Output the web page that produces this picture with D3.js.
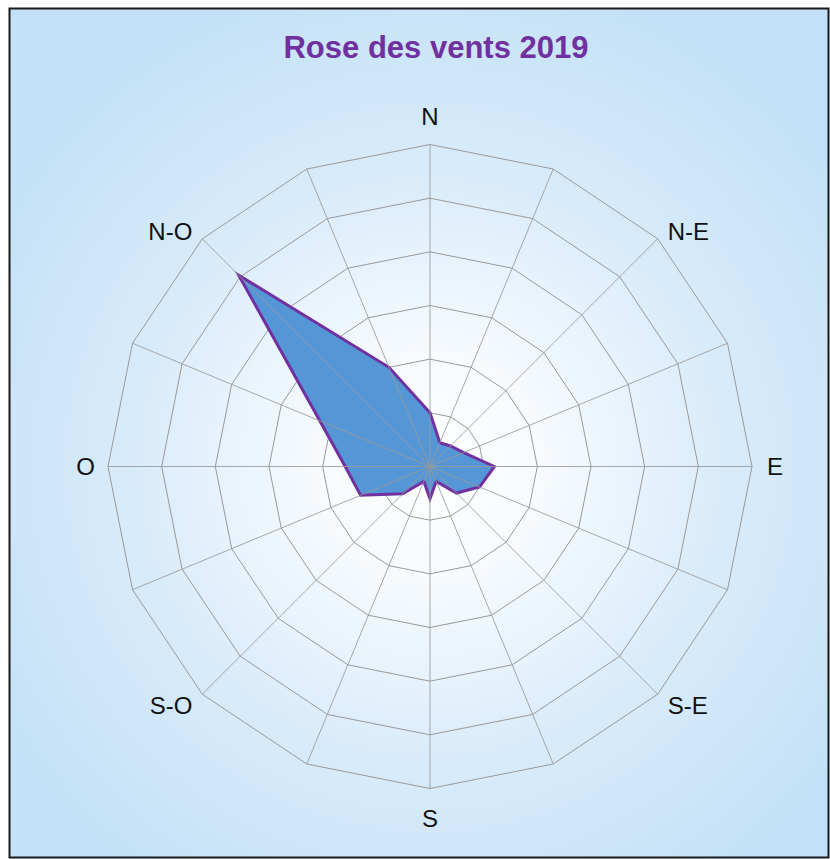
<!DOCTYPE html>
<html>
<head>
<meta charset="utf-8">
<script src="https://cdn.jsdelivr.net/npm/d3@7"></script>
<style>
  body { margin: 0; background: #fff; }
  svg { display: block; }
</style>
</head>
<body>
<script>
const width = 830;
const height = 859;
const cx = 430;
const cy = 466.5;
const radius = 322;

// 16 directions, clockwise from north
const directions = ["N", "NNE", "NE", "ENE", "E", "ESE", "SE", "SSE",
                    "S", "SSO", "SO", "OSO", "O", "ONO", "NO", "NNO"];
const dirLabels = ["N", "", "N-E", "", "E", "", "S-E", "",
                   "S", "", "S-O", "", "O", "", "N-O", ""];
// frequency in %
const values = [5.0, 2.4, 2.7, 3.4, 6.0, 5.0, 3.5, 1.5,
                3.0, 1.5, 3.6, 7.0, 7.9, 11.1, 25.2, 10.0];
const ticks = [5, 10, 15, 20, 25, 30];

const svg = d3.select("body").append("svg")
  .attr("width", width)
  .attr("height", height);

const defs = svg.append("defs");
const grad = defs.append("radialGradient")
  .attr("id", "bg")
  .attr("gradientUnits", "userSpaceOnUse")
  .attr("cx", cx).attr("cy", cy).attr("r", 500);
grad.append("stop").attr("offset", "0%").attr("stop-color", "#ffffff");
grad.append("stop").attr("offset", "25%").attr("stop-color", "#f5fafe");
grad.append("stop").attr("offset", "60%").attr("stop-color", "#d8ebfa");
grad.append("stop").attr("offset", "100%").attr("stop-color", "#c4e1f7");

svg.append("rect")
  .attr("x", 9.5).attr("y", 8.5)
  .attr("width", 819).attr("height", 849)
  .attr("fill", "url(#bg)")
  .attr("stroke", "#1a1a1a")
  .attr("stroke-width", 2);

svg.append("text")
  .attr("x", 436).attr("y", 58)
  .attr("text-anchor", "middle")
  .attr("font-family", "Liberation Sans, Arial, sans-serif")
  .attr("font-size", 31)
  .attr("font-weight", "bold")
  .attr("fill", "#7030a0")
  .text("Rose des vents 2019");

const r = d3.scaleLinear().domain([0, 30]).range([0, radius]);
const angle = d3.scaleLinear()
  .domain([0, directions.length])
  .range([0, 2 * Math.PI]);

const g = svg.append("g").attr("transform", `translate(${cx},${cy})`);

// rings
const ringLine = d3.lineRadial()
  .angle((d, i) => angle(i))
  .curve(d3.curveLinearClosed);

g.selectAll("path.ring")
  .data(ticks)
  .enter()
  .append("path")
    .attr("class", "ring")
    .attr("d", t => ringLine.radius(r(t))(directions))
    .attr("fill", "none")
    .attr("stroke", "#999")
    .attr("stroke-width", 1);

// series
const area = d3.lineRadial()
  .angle((d, i) => angle(i))
  .radius(d => r(d))
  .curve(d3.curveLinearClosed);

g.append("path")
  .attr("d", area(values))
  .attr("fill", "#5597d6")
  .attr("stroke", "#7030a0")
  .attr("stroke-width", 3)
  .attr("stroke-linejoin", "miter");

// spokes drawn over the fill, as in the picture
g.selectAll("line.spoke")
  .data(directions)
  .enter()
  .append("line")
    .attr("class", "spoke")
    .attr("x1", 0).attr("y1", 0)
    .attr("x2", (d, i) => r(30) * Math.sin(angle(i)))
    .attr("y2", (d, i) => -r(30) * Math.cos(angle(i)))
    .attr("stroke", "#999")
    .attr("stroke-opacity", 0.85)
    .attr("stroke-width", 1);

// direction labels just outside the outer ring
function labelX(i) {
  const s = Math.sin(angle(i));
  const vx = radius * s;
  if (s > 0.9) return vx + 15;
  if (s < -0.9) return vx - 13;
  if (s > 0.1) return vx + 10;
  if (s < -0.1) return vx - 10;
  return vx;
}
function labelY(i) {
  const c = Math.cos(angle(i));
  const vy = -radius * c;
  if (c > 0.9) return vy - 27.5;
  if (c < -0.9) return vy + 30;
  if (c > 0.1) return vy - 7;
  if (c < -0.1) return vy + 11;
  return vy;
}
function labelAnchor(i) {
  const s = Math.sin(angle(i));
  if (s > 0.1) return "start";
  if (s < -0.1) return "end";
  return "middle";
}

g.selectAll("text.dir")
  .data(dirLabels)
  .enter()
  .append("text")
    .attr("class", "dir")
    .attr("x", (d, i) => labelX(i))
    .attr("y", (d, i) => labelY(i))
    .attr("dy", "0.35em")
    .attr("text-anchor", (d, i) => labelAnchor(i))
    .attr("font-family", "Liberation Sans, Arial, sans-serif")
    .attr("font-size", 24)
    .attr("fill", "#111")
    .text(d => d);
</script>
</body>
</html>
